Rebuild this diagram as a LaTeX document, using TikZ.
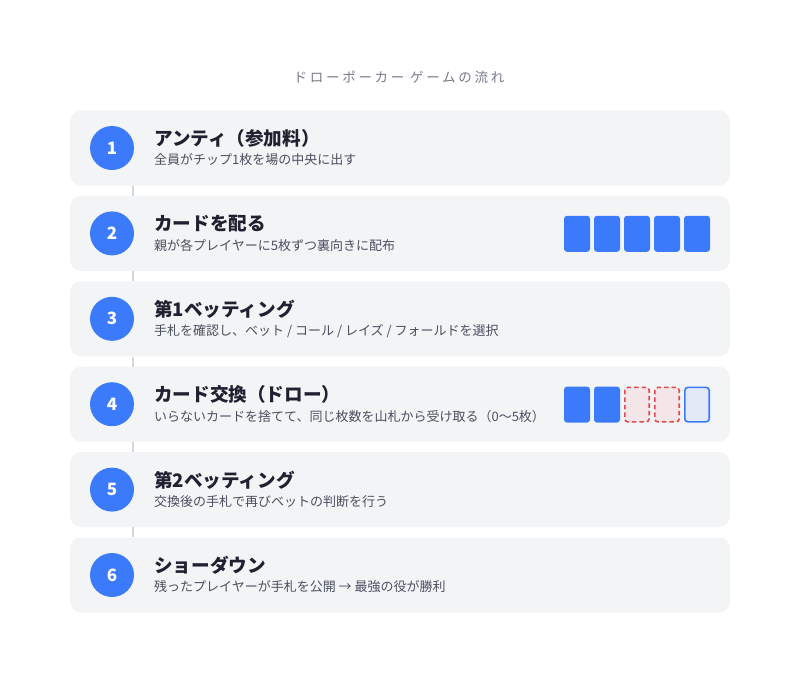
\documentclass[tikz,border=0pt]{standalone}
\usepackage{fontspec}
\newfontfamily\jp{Noto Sans CJK JP}
\newfontfamily\jpspaced[LetterSpace=20]{Noto Sans CJK JP}
\usetikzlibrary{positioning}

\definecolor{stepbg}{HTML}{F3F4F6}
\definecolor{stepblue}{HTML}{3B7BFB}
\definecolor{titleink}{HTML}{1E2130}
\definecolor{subink}{HTML}{4B5060}
\definecolor{headink}{HTML}{767B88}
\definecolor{linkgray}{HTML}{D3D7DE}
\definecolor{dropred}{HTML}{E2484E}
\definecolor{dropfill}{HTML}{F4E6E8}
\definecolor{newfill}{HTML}{E3E9F6}

\tikzset{
  stepbox/.style={rectangle, rounded corners=11pt, fill=stepbg, minimum width=660pt, minimum height=75pt, inner sep=0pt},
  numdot/.style={circle, fill=stepblue, minimum size=44pt, inner sep=0pt, text=white, font=\jp\bfseries\fontsize{17}{17}\selectfont},
  steptitle/.style={anchor=west, inner sep=0pt, text=titleink, font=\jp\bfseries\fontsize{18.6}{21}\selectfont},
  stepsub/.style={anchor=west, inner sep=0pt, text=subink, font=\jp\fontsize{13}{15}\selectfont},
  card/.style={rectangle, rounded corners=3pt, minimum width=26pt, minimum height=36pt, inner sep=0pt, fill=stepblue},
  dropcard/.style={card, fill=dropfill, draw=dropred, line width=1.6pt, dash pattern=on 4.5pt off 3pt, minimum width=24.4pt, minimum height=34.4pt},
  newcard/.style={card, fill=newfill, draw=stepblue, line width=1.6pt, minimum width=24.4pt, minimum height=34.4pt},
  link/.style={draw=linkgray, line width=1.5pt}
}

\begin{document}
\begin{tikzpicture}[x=1pt, y=-1pt]
  \useasboundingbox (0,0) rectangle (800,680);

  \node[inner sep=0pt, text=headink, font=\jpspaced\fontsize{13.5}{15}\selectfont] (head) at (399,77) {ドローポーカー ゲームの流れ};

  % boxes and numbers
  \foreach \i in {1,...,6} {
    \node[stepbox] (box\i) at (400,{148+(\i-1)*85.4}) {};
    \node[numdot] (num\i) at (112,{148+(\i-1)*85.4}) {\i};
  }

  % connectors between the steps
  \foreach \i/\j in {1/2, 2/3, 3/4, 4/5, 5/6}
    \draw[link] ([xshift=63pt]box\i.south west) -- ([xshift=63pt]box\j.north west);

  % texts
  \node[steptitle] (t1) at (154,138.5) {アンティ（参加料）};
  \node[stepsub] (s1) at (154,160) {全員がチップ1枚を場の中央に出す};
  \node[steptitle] (t2) at (154,223.9) {カードを配る};
  \node[stepsub] (s2) at (154,245.4) {親が各プレイヤーに5枚ずつ裏向きに配布};
  \node[steptitle] (t3) at (154,309.3) {第1ベッティング};
  \node[stepsub] (s3) at (154,330.8) {手札を確認し、ベット / コール / レイズ / フォールドを選択};
  \node[steptitle] (t4) at (154,394.7) {カード交換（ドロー）};
  \node[stepsub] (s4) at (154,416.2) {いらないカードを捨てて、同じ枚数を山札から受け取る（0〜5枚）};
  \node[steptitle] (t5) at (154,480.1) {第2ベッティング};
  \node[stepsub] (s5) at (154,501.6) {交換後の手札で再びベットの判断を行う};
  \node[steptitle] (t6) at (154,565.5) {ショーダウン};
  \node[stepsub] (s6) at (154,587) {残ったプレイヤーが手札を公開 → 最強の役が勝利};

  % dealt cards
  \foreach \k in {1,...,5}
    \node[card] (deal\k) at ({547+30*\k},233.8) {};

  % draw: keep two, throw two, take new
  \node[card] (keep1) at (577,404.6) {};
  \node[card] (keep2) at (607,404.6) {};
  \node[dropcard] (drop1) at (637,404.6) {};
  \node[dropcard] (drop2) at (667,404.6) {};
  \node[newcard] (fresh) at (697,404.6) {};
\end{tikzpicture}
\end{document}
